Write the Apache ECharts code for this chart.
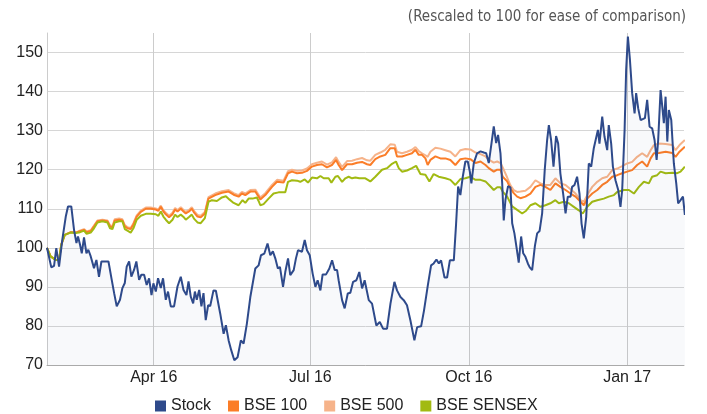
<!DOCTYPE html>
<html>
<head>
<meta charset="utf-8">
<script src="https://cdn.jsdelivr.net/npm/echarts@6/dist/echarts.min.js"></script>
<style>
  html, body { margin: 0; padding: 0; background: #fff; }
  #chart { width: 707px; height: 414px; }
</style>
</head>
<body>
<div id="chart"></div>
<script>
// 日期以 2016-01-30 起的天数表示
var START = Date.UTC(2016, 0, 30);
var END = Date.UTC(2017, 1, 3);
var DAY = 86400000;

var seriesNames = ["Stock", "BSE 100", "BSE 500", "BSE SENSEX"];
var xTickDates = ["2016-04-01", "2016-07-01", "2016-10-01", "2017-01-01"];
var yTicks = [70, 80, 90, 100, 110, 120, 130, 140, 150];

var stockDays = [0, 2.5, 4.1, 5.4, 7.0, 8.9, 10.9, 12.2, 14.1, 15.7, 17.1, 18.0, 19.2, 20.2, 21.5, 22.9, 24.0, 25.4, 27.3, 28.7,
  30.2, 31.6, 34.1, 35.7, 37.6, 39.0, 40.5, 42.4, 43.8, 45.2, 46.3, 47.7, 49.0, 50.6, 51.9, 53.5, 54.8, 56.4, 57.9, 59.3,
  60.7, 61.8, 63.2, 64.5, 66.1, 67.4, 69.0, 70.3, 71.9, 73.8, 75.8, 77.7, 79.3, 81.0, 82.2, 83.5, 84.9, 85.9, 87.0, 88.4,
  89.7, 90.9, 92.2, 93.6, 94.8, 96.7, 98.1, 100.6, 102.6, 103.9, 105.5, 107.0, 108.8, 110.7, 112.6, 114.2, 116.1, 118.1, 121.0, 122.9,
  124.3, 126.2, 128.1, 129.7, 131.2, 132.6, 134.1, 135.3, 137.1, 138.4, 140.0, 141.3, 143.3, 144.6, 145.8, 148.1, 149.7, 151.0, 152.6, 154.3,
  155.9, 157.2, 158.8, 160.1, 162.1, 164.0, 165.6, 167.1, 168.5, 169.4, 171.4, 172.9, 174.7, 176.2, 177.8, 179.7, 181.4, 183.0, 184.5, 186.9,
  188.8, 191.3, 193.3, 195.2, 197.5, 199.5, 201.8, 203.3, 205.3, 207.2, 209.1, 211.1, 213.4, 215.0, 217.3, 219.0, 221.2, 223.1, 224.6, 226.2,
  227.6, 228.9, 230.9, 232.4, 234.0, 236.3, 237.6, 238.8, 240.1, 241.5, 243.0, 244.4, 245.6, 246.5, 247.9, 249.8, 251.8, 253.7, 255.1, 256.6,
  258.2, 259.5, 260.9, 262.0, 263.4, 264.4, 265.3, 266.3, 267.8, 269.2, 270.2, 271.5, 272.7, 274.0, 275.4, 276.6, 277.9, 279.3, 280.4, 281.8,
  283.4, 284.7, 286.1, 287.6, 289.1, 290.5, 291.5, 292.8, 294.2, 295.7, 296.9, 298.2, 299.8, 301.2, 302.5, 304.1, 305.0, 306.4, 307.9, 309.3,
  310.5, 311.8, 313.2, 314.7, 316.1, 317.6, 318.6, 320.0, 320.9, 322.5, 323.8, 325.4, 326.3, 327.7, 328.7, 330.2, 331.8, 333.1, 334.1, 335.5,
  336.4, 337.4, 338.6, 339.9, 341.3, 342.2, 343.4, 344.8, 345.7, 347.3, 348.6, 350.0, 351.5, 352.9, 354.1, 355.0, 356.4, 357.4, 358.3, 359.3,
  360.3, 361.2, 362.6, 364.1, 365.5, 366.6, 368.0, 369.4, 370.5];
var stockValues = [100, 95.0, 95.4, 99.9, 95.2, 102.1, 108.0, 110.6, 110.6, 104.6, 101.2, 102.9, 100.8, 98.6, 102.7, 98.6, 99.5, 97.8, 94.8, 96.9,
  92.6, 96.5, 96.5, 96.5, 91.8, 88.4, 85.0, 86.7, 89.7, 91.0, 95.2, 96.5, 92.6, 94.4, 96.5, 91.8, 93.1, 93.1, 90.5, 92.2,
  87.9, 90.9, 88.8, 92.2, 89.7, 92.2, 86.7, 88.8, 85.0, 85.0, 90.1, 92.6, 89.2, 87.9, 91.4, 87.5, 85.8, 88.8, 86.7, 89.2,
  85.0, 88.4, 81.5, 85.3, 85.1, 89.1, 89.0, 83.2, 78.0, 80.2, 76.3, 73.8, 71.2, 72.0, 76.3, 75.5, 80.6, 87.4, 94.7, 95.5,
  98.1, 98.5, 101.1, 98.1, 99.1, 97.3, 94.7, 95.1, 90.0, 93.8, 97.3, 93.0, 94.3, 97.3, 99.4, 99.0, 102.0, 99.4, 98.1, 93.4,
  90.0, 91.7, 89.1, 93.2, 93.2, 94.7, 96.8, 94.3, 94.3, 91.7, 86.6, 84.5, 88.3, 88.5, 91.3, 91.7, 93.8, 89.6, 91.7, 86.6,
  85.7, 80.1, 81.0, 79.3, 79.3, 85.7, 91.3, 89.1, 87.4, 86.6, 85.3, 81.4, 76.3, 79.7, 79.9, 84.0, 90.4, 95.5, 96.0, 97.0,
  96.0, 96.8, 92.4, 92.4, 96.8, 96.8, 106.0, 115.7, 113.5, 118.2, 122.1, 122.1, 119.5, 116.5, 121.7, 124.2, 124.7, 124.4, 124.2, 121.7,
  126.8, 131.1, 126.8, 128.9, 124.2, 116.5, 107.0, 112.3, 115.8, 115.5, 106.3, 103.7, 100.2, 96.2, 102.9, 98.6, 97.7, 96.0, 95.0, 94.3,
  100.5, 103.7, 104.3, 108.8, 119.9, 127.6, 131.4, 127.6, 120.8, 128.6, 126.7, 119.0, 113.9, 108.8, 113.1, 113.1, 115.6, 116.1, 118.2, 113.9,
  106.2, 102.4, 107.9, 121.6, 120.8, 125.5, 125.5, 130.2, 126.7, 133.6, 128.5, 125.0, 131.4, 126.7, 120.8, 117.3, 114.8, 110.5, 114.8, 130.2,
  145.5, 154.1, 148.1, 139.6, 134.4, 139.6, 135.7, 132.7, 133.2, 133.2, 137.9, 131.0, 130.6, 127.6, 122.5, 127.6, 140.4, 136.1, 131.9, 138.7,
  127.2, 135.3, 132.7, 121.6, 116.5, 111.4, 112.2, 113.1, 108.4];

var indexDays = [0, 2.1, 5, 7, 8.3, 10.3, 13.8, 16.7, 18.6, 21.5, 23, 25.4, 27.3, 29.3, 32.2, 35.1, 36.6, 38, 39.3, 41.9,
  43.8, 45.2, 46.7, 48.6, 50.2, 52.1, 54.5, 57.4, 60.3, 63.2, 64.7, 66.1, 67.6, 69, 70.9, 72.9, 74.4, 75.8, 77.7, 79.3,
  80.6, 82.5, 84.1, 85.5, 87.4, 89.3, 91.7, 93.8, 97.7, 101.6, 105.5, 108.4, 111.3, 113.2, 115.2, 118.1, 121, 123.9, 126.8, 130.7,
  133.6, 137.4, 140, 142.3, 145.2, 148.1, 151, 153.9, 156.8, 159.7, 162.6, 165.5, 167.9, 169.4, 171.4, 174.3, 177.2, 180.1, 183, 185.9,
  187.8, 190.7, 193.6, 196.5, 199.4, 202, 203.3, 206.2, 209.1, 212, 214, 215.9, 217.8, 219.8, 221.1, 222.7, 225.6, 228.5, 231.4, 234.3,
  237.2, 240.1, 243, 245.9, 248.9, 251.8, 254.7, 256.6, 259.5, 261.5, 263.4, 264.7, 267.3, 269.2, 271.1, 273.1, 275, 277.9, 280.8, 283.7,
  286.6, 289.5, 292.4, 295.3, 298.2, 301.2, 304.1, 307, 309.9, 311.8, 313.8, 316.7, 319.6, 322.5, 325.4, 328.3, 331.2, 334.1, 337, 339.9,
  342.8, 345.7, 348.6, 350.6, 352.5, 355.4, 359.3, 363.2, 365.1, 367.4, 370.5];
var bse100Values = [100, 97.8, 96.9, 96.9, 100.8, 103.3, 104.0, 103.9, 104.2, 104.6, 104.0, 104.3, 105.5, 106.8, 107.0, 106.8, 105.5, 105.2, 107.0, 107.2,
  107.0, 105.5, 105.0, 104.8, 106.0, 108.0, 109.2, 110.0, 110.0, 109.8, 109.5, 110.5, 109.3, 108.6, 107.8, 108.6, 109.8, 109.3, 110.0, 109.3,
  108.8, 109.3, 110.0, 109.0, 108.0, 107.8, 108.8, 112.6, 113.5, 114.1, 114.4, 113.6, 113.1, 113.9, 113.5, 114.4, 114.4, 112.4, 113.5, 115.6,
  116.9, 116.7, 119.1, 119.5, 119.1, 119.2, 119.7, 120.8, 121.2, 121.4, 120.6, 121.2, 122.5, 121.2, 119.9, 121.4, 121.4, 121.8, 122.0, 121.4,
  121.2, 122.7, 123.4, 123.8, 125.5, 125.5, 123.4, 123.4, 123.8, 124.2, 125.1, 123.8, 123.8, 122.9, 121.2, 122.5, 123.4, 122.9, 122.9, 122.5,
  121.2, 122.7, 122.9, 122.7, 121.7, 122.1, 121.2, 120.4, 119.5, 120.0, 120.0, 118.2, 117.0, 115.2, 114.0, 113.1, 112.7, 113.1, 113.9, 115.6,
  116.1, 115.6, 114.8, 116.5, 115.6, 114.8, 113.9, 113.1, 111.8, 110.9, 112.6, 113.9, 114.8, 116.1, 116.9, 118.2, 118.6, 119.1, 119.5, 119.9,
  121.2, 122.1, 120.8, 122.9, 124.2, 124.3, 124.6, 124.3, 123.3, 124.6, 125.9];
var bse500Values = [100, 97.8, 96.9, 96.9, 100.8, 103.3, 104.0, 103.9, 104.3, 104.8, 104.2, 104.5, 105.7, 107.0, 107.2, 107.0, 105.8, 105.5, 107.3, 107.5,
  107.3, 105.8, 105.3, 105.1, 106.3, 108.3, 109.5, 110.3, 110.3, 110.1, 109.8, 110.8, 109.6, 109.0, 108.2, 109.0, 110.2, 109.7, 110.4, 109.7,
  109.2, 109.7, 110.4, 109.4, 108.4, 108.2, 109.2, 113.0, 113.9, 114.5, 114.8, 114.0, 113.5, 114.3, 113.9, 114.8, 114.9, 112.9, 114.0, 116.1,
  117.4, 117.2, 119.6, 120.0, 119.7, 119.8, 120.3, 121.4, 121.8, 122.1, 121.3, 121.9, 123.2, 122.0, 120.7, 122.2, 122.3, 122.7, 123.0, 122.4,
  122.3, 123.8, 124.4, 125.1, 126.5, 126.4, 124.6, 124.2, 124.6, 125.1, 125.8, 124.8, 124.2, 123.7, 123.3, 124.6, 125.6, 125.4, 125.0, 124.6,
  123.4, 125.0, 125.3, 125.2, 124.4, 124.0, 123.4, 122.6, 121.8, 122.1, 121.7, 120.6, 118.0, 116.0, 114.8, 114.3, 114.4, 114.6, 115.6, 117.3,
  116.5, 116.1, 116.1, 117.8, 116.5, 116.1, 115.0, 113.9, 112.2, 111.8, 113.5, 115.6, 116.9, 117.8, 118.2, 119.9, 120.3, 120.9, 121.6, 122.0,
  123.3, 124.2, 123.3, 125.0, 126.3, 126.7, 126.6, 126.3, 125.0, 126.3, 127.6];

var sensexDays = [0, 2.1, 5, 7, 8.3, 10.3, 13.8, 16.7, 18.6, 21.5, 23, 25.4, 27.3, 29.3, 32.2, 35.1, 36.6, 38, 39.3, 41.9,
  43.8, 45.2, 46.7, 48.6, 50.2, 52.1, 54.5, 57.4, 60.3, 63.2, 64.7, 66.1, 67.6, 69, 70.9, 72.9, 74.4, 75.8, 77.7, 79.3,
  80.6, 82.5, 84.1, 85.5, 87.4, 89.3, 91.7, 93.8, 95.8, 98.7, 101.6, 103.9, 105.9, 108.4, 111.3, 113.6, 115.2, 117.1, 119.4, 121.9,
  122.9, 123.9, 125.8, 128.7, 131.6, 134.5, 138.4, 140, 142.3, 145.2, 147.1, 149.7, 151.6, 153.9, 156.8, 158.8, 160.7, 163.6, 165.2, 167.5,
  169, 171.4, 173.3, 175.2, 177.2, 179.1, 181.4, 184.9, 187.8, 190.7, 194.6, 197.5, 200.4, 202.7, 204.3, 206.2, 209.1, 212, 214.4, 216.9,
  219.8, 222.1, 224.6, 227.5, 231.4, 234.3, 237.2, 240.1, 243, 245.9, 248.9, 251.8, 254.7, 257.6, 259.5, 261.5, 263.4, 264.7, 267.3, 270.2,
  273.1, 276, 278.3, 280.8, 283.7, 286.6, 289.5, 292.4, 295.3, 297.3, 300.2, 303.1, 306, 308.9, 311.2, 313.8, 316.7, 319.6, 323.4, 326.3,
  329.3, 331.2, 335.1, 338, 340.9, 343.8, 346.7, 349.6, 351.5, 354.4, 356.4, 359.3, 363.2, 366.1, 368, 370.5];
var sensexValues = [100, 97.8, 96.9, 96.9, 100.8, 103.3, 103.9, 103.8, 103.9, 104.4, 103.6, 103.9, 105.0, 106.5, 106.8, 106.5, 105.0, 104.8, 106.5, 106.8,
  106.8, 104.8, 104.4, 103.9, 105.0, 107.2, 108.2, 108.7, 108.7, 108.6, 108.2, 109.3, 108.0, 107.2, 106.3, 107.2, 108.5, 107.9, 108.5, 107.9,
  107.2, 107.9, 108.5, 107.4, 106.5, 106.3, 107.6, 111.8, 112.2, 112.0, 112.9, 113.2, 112.4, 111.5, 110.9, 112.2, 111.5, 112.6, 112.6, 112.9,
  112.0, 110.9, 111.2, 112.6, 113.9, 114.2, 114.2, 116.9, 117.3, 117.2, 116.9, 117.5, 116.7, 118.0, 117.8, 118.4, 117.8, 117.8, 116.7, 118.2,
  118.4, 116.9, 117.8, 118.2, 117.8, 118.0, 117.8, 117.8, 117.0, 118.2, 120.0, 120.4, 121.5, 122.1, 120.4, 119.5, 119.8, 120.4, 121.0, 118.9,
  118.7, 117.0, 118.9, 118.2, 117.8, 117.4, 116.1, 117.6, 117.8, 118.2, 117.4, 117.4, 117.0, 115.7, 114.8, 115.5, 115.5, 114.4, 113.1, 110.6,
  109.7, 108.8, 109.5, 110.9, 111.4, 110.5, 110.9, 111.4, 112.2, 111.4, 111.8, 111.4, 110.5, 109.6, 108.8, 110.5, 111.8, 112.2, 112.6, 113.1,
  113.5, 114.3, 114.8, 114.8, 113.9, 115.6, 116.9, 116.5, 118.2, 118.6, 119.5, 119.1, 119.2, 119.1, 119.5, 120.8];

var colors = ["#2e4a8b", "#fb7d28", "#f6b38a", "#a2ba12"];
var MONTHS = ["Jan", "Feb", "Mar", "Apr", "May", "Jun", "Jul", "Aug", "Sep", "Oct", "Nov", "Dec"];
var FONT = '"Liberation Sans", Arial, sans-serif';

function toPairs(days, values) {
  return days.map(function (d, i) { return [START + d * DAY, values[i]]; });
}

var xTickValues = xTickDates.map(function (s) { return Date.parse(s + "T00:00:00Z"); });

var chartDom = document.getElementById("chart");
var myChart = echarts.init(chartDom, null, { renderer: "canvas" });

function lineSeries(name, data, color, extra) {
  var s = {
    name: name,
    type: "line",
    data: data,
    showSymbol: false,
    symbol: "none",
    lineStyle: { color: color, width: 2 },
    itemStyle: { color: color },
    z: 2
  };
  return Object.assign(s, extra || {});
}

var option = {
  animation: false,
  color: colors,
  title: {
    text: "(Rescaled to 100 for ease of comparison)",
    right: 16,
    top: 5,
    textStyle: {
      fontFamily: '"Liberation Sans Narrow", "DejaVu Sans Condensed", sans-serif',
      fontSize: 15,
      fontWeight: "normal",
      color: "#555"
    }
  },
  legend: {
    data: seriesNames,
    top: 393,
    left: 150,
    icon: "rect",
    itemWidth: 11,
    itemHeight: 11,
    itemGap: 17,
    textStyle: { fontFamily: FONT, fontSize: 16, color: "#222" }
  },
  grid: { left: 47, right: 23, top: 33, bottom: 49 },
  xAxis: {
    type: "value",
    min: START,
    max: END,
    axisLine: { lineStyle: { color: "#aaa" } },
    axisTick: { show: false, customValues: xTickValues },
    splitLine: { show: true, lineStyle: { color: "#ccc", width: 1 } },
    axisLabel: {
      customValues: xTickValues,
      formatter: function (val) {
        var d = new Date(val);
        return MONTHS[d.getUTCMonth()] + " " + String(d.getUTCFullYear()).slice(2);
      },
      fontFamily: FONT,
      fontSize: 16,
      color: "#222",
      margin: 5
    }
  },
  yAxis: {
    type: "value",
    min: 70,
    max: 155,
    interval: 10,
    axisLine: { show: true, lineStyle: { color: "#ccc" } },
    axisTick: { show: false, customValues: yTicks },
    splitLine: { lineStyle: { color: "#d6d6d6", width: 1 } },
    axisLabel: {
      customValues: yTicks,
      fontFamily: FONT,
      fontSize: 16,
      color: "#222",
      margin: 4
    }
  },
  series: [
    lineSeries("Stock", toPairs(stockDays, stockValues), colors[0], {
      z: 4,
      areaStyle: { color: "rgba(40, 60, 140, 0.045)", origin: "start" }
    }),
    lineSeries("BSE 100", toPairs(indexDays, bse100Values), colors[1]),
    lineSeries("BSE 500", toPairs(indexDays, bse500Values), colors[2], { z: 1 }),
    lineSeries("BSE SENSEX", toPairs(sensexDays, sensexValues), colors[3], { z: 3 })
  ]
};

myChart.setOption(option);
window.addEventListener("resize", function () {
  myChart.resize();
});
</script>
</body>
</html>
